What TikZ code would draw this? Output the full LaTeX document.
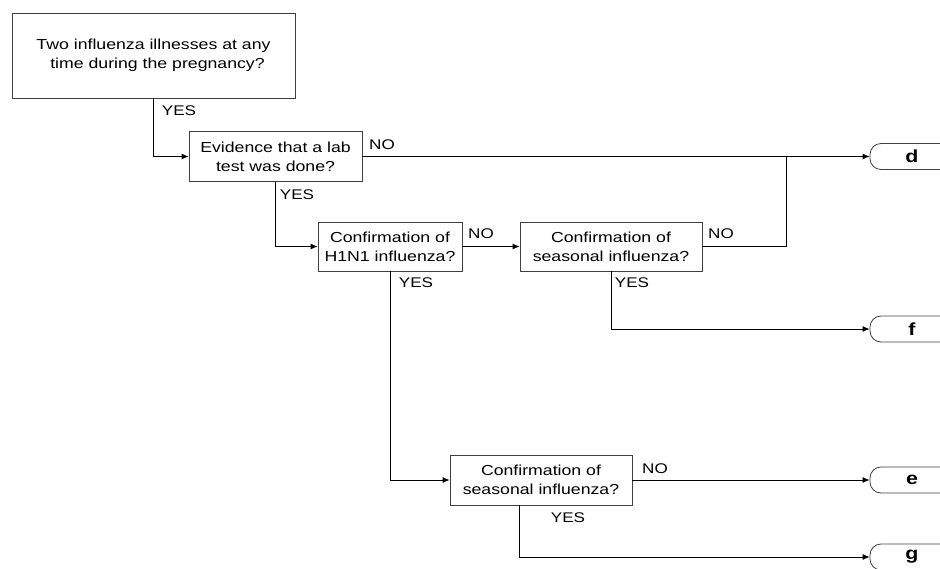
\documentclass[tikz,border=0pt]{standalone}
\usepackage{fontspec}
\setmainfont{Liberation Sans}[FakeStretch=1.22]
\usetikzlibrary{arrows, arrows.meta}

\tikzset{
  qbox/.style={draw=black!75, line width=0.8pt, align=center, inner sep=0pt, font=\fontsize{14.5}{19}\selectfont},
  endbox/.style={draw=black!75, line width=0.8pt, rounded corners=11pt, minimum width=84pt, minimum height=26pt, inner sep=0pt, font=\bfseries\fontsize{17.5}{18}\selectfont},
  lbl/.style={inner sep=0pt, font=\fontsize{14}{16}\selectfont},
  flow/.style={line width=0.8pt, -{Latex[length=7pt,width=6pt]}},
  wire/.style={line width=0.8pt}
}

\begin{document}
\begin{tikzpicture}[x=1pt,y=-1pt]
\useasboundingbox (0,0) rectangle (940,568);

\node[qbox, minimum width=283pt, minimum height=85pt] (two) at (153.5,55.5) {Two influenza illnesses at any\\\hspace*{8pt}time during the pregnancy?};
\node[qbox, minimum width=173pt, minimum height=50pt] (lab) at (275.5,156.5) {Evidence that a lab\\test was done?};
\node[qbox, minimum width=144pt, minimum height=49pt] (hone) at (390,246.5) {Confirmation of\\H1N1 influenza?};
\node[qbox, minimum width=182pt, minimum height=49pt] (seasA) at (611,246.5) {Confirmation of\\seasonal influenza?};
\node[qbox, minimum width=182pt, minimum height=50pt] (seasB) at (541,480) {Confirmation of\\seasonal influenza?};

\node[endbox] (tD) at (912,156.5) {d}; %d
\node[endbox] (tF) at (912,329)   {f}; %f
\node[endbox] (tE) at (912,480)   {e}; %e
\node[endbox] (tG) at (912,557)   {g}; %g

\node[lbl] (yA) at (179,111) {YES};
\node[lbl] (nB) at (382,145) {NO};
\node[lbl] (yB) at (297,195) {YES};
\node[lbl] (nC) at (481,234) {NO};
\node[lbl] (nD) at (721,234) {NO};
\node[lbl] (yC) at (416,283) {YES};
\node[lbl] (yD) at (632,283) {YES};
\node[lbl] (nE) at (655,469) {NO};
\node[lbl] (yE) at (568,518) {YES};

\coordinate (jn) at (786,156.5);

\draw[flow] (two.south) |- (lab.west);
\draw[flow] (lab.east) -- (tD.west);
\draw[flow] (lab.south) |- (hone.west);
\draw[flow] (hone.east) -- (seasA.west);
\draw[wire] (seasA.east) -| (jn);
\draw[flow] (seasA.south) |- (tF.west);
\draw[flow] (hone.south) |- (seasB.west);
\draw[flow] (seasB.east) -- (tE.west);
\draw[flow] ([xshift=-22pt]seasB.south) |- (tG.west);

\end{tikzpicture}
\end{document}
